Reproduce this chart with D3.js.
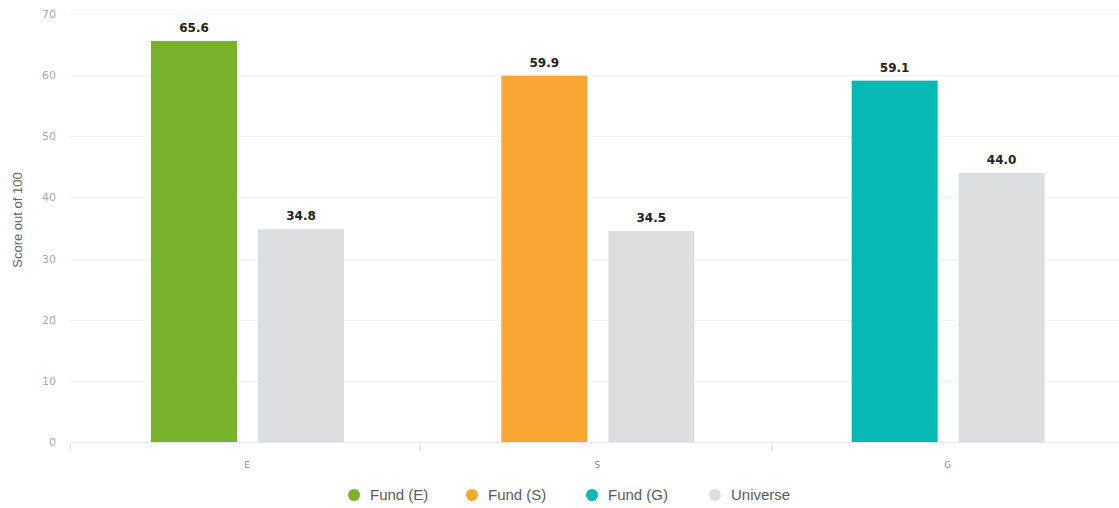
<!DOCTYPE html>
<html>
<head>
<meta charset="utf-8">
<script src="https://cdn.jsdelivr.net/npm/d3@7"></script>
<style>
  body { margin: 0; background: #fff; }
  .tick text { fill: #aaaaaa; }
</style>
</head>
<body>
<div id="chart"></div>
<script>
var svgWidth = 1119;
var svgHeight = 508;

var margin = { top: 14, right: 0, bottom: 66, left: 70 };
var width = svgWidth - margin.left - margin.right;
var height = svgHeight - margin.top - margin.bottom;

// data
var categories = ["E", "S", "G"];
var fundScores = [65.6, 59.9, 59.1];
var universeScores = [34.8, 34.5, 44.0];
var fundColors = ["#78b22a", "#f8a733", "#05b8b3"];
var universeColor = "#dcdfe1";
var legendLabels = ["Fund (E)", "Fund (S)", "Fund (G)", "Universe"];
var yTicks = [0, 10, 20, 30, 40, 50, 60, 70];

var svg = d3.select("#chart")
  .append("svg")
  .attr("width", svgWidth)
  .attr("height", svgHeight);

var chartGroup = svg.append("g")
  .attr("transform", `translate(${margin.left}, ${margin.top})`);

var xScale = d3.scaleBand()
  .domain(categories)
  .range([0, width + 2]);

// two bars per category, 86px wide with a 21px gap
var inner = d3.scaleBand()
  .domain(["fund", "universe"])
  .range([81, 81 + 193])
  .paddingInner(21 / 107);

var yScale = d3.scaleLinear()
  .domain([0, 70])
  .range([height, 0]);

// gridlines
chartGroup.append("g")
  .selectAll("line")
  .data(yTicks.slice(1))
  .enter()
  .append("line")
  .attr("x1", 0)
  .attr("x2", width)
  .attr("y1", d => Math.round(yScale(d)) + 0.5)
  .attr("y2", d => Math.round(yScale(d)) + 0.5)
  .attr("stroke", "#f4f4f4")
  .attr("stroke-width", 1);

// y axis labels
var leftAxis = d3.axisLeft(yScale).tickValues(yTicks).tickSize(0).tickPadding(14);
var yAxis = chartGroup.append("g").call(leftAxis);
yAxis.select(".domain").remove();
yAxis.selectAll("text")
  .style("font-family", "DejaVu Sans, sans-serif")
  .style("font-size", "11px");

// x axis
chartGroup.append("line")
  .attr("x1", 0)
  .attr("x2", width)
  .attr("y1", height + 0.5)
  .attr("y2", height + 0.5)
  .attr("stroke", "#e6e9ec");

chartGroup.append("g")
  .selectAll("line")
  .data(categories)
  .enter()
  .append("line")
  .attr("x1", d => Math.round(xScale(d)) + 0.5)
  .attr("x2", d => Math.round(xScale(d)) + 0.5)
  .attr("y1", height)
  .attr("y2", height + 10)
  .attr("stroke", "#e6e9ec");

chartGroup.append("g")
  .selectAll("text")
  .data(categories)
  .enter()
  .append("text")
  .attr("x", d => xScale(d) + 177)
  .attr("y", height + 26)
  .attr("text-anchor", "middle")
  .style("font-family", "DejaVu Sans, sans-serif")
  .style("font-size", "9px")
  .attr("fill", "#8a8a8a")
  .text(d => d);

// bars
var groups = chartGroup.selectAll(".cat")
  .data(categories)
  .enter()
  .append("g")
  .attr("transform", d => `translate(${xScale(d)}, 0)`);

groups.append("rect")
  .attr("x", inner("fund"))
  .attr("width", inner.bandwidth())
  .attr("y", (d, i) => yScale(fundScores[i]))
  .attr("height", (d, i) => height - yScale(fundScores[i]))
  .attr("fill", (d, i) => fundColors[i]);

groups.append("rect")
  .attr("x", inner("universe"))
  .attr("width", inner.bandwidth())
  .attr("y", (d, i) => yScale(universeScores[i]))
  .attr("height", (d, i) => height - yScale(universeScores[i]))
  .attr("fill", universeColor);

// value labels
groups.append("text")
  .attr("x", inner("fund") + inner.bandwidth() / 2)
  .attr("y", (d, i) => yScale(fundScores[i]) - 9)
  .attr("text-anchor", "middle")
  .style("font-family", "DejaVu Sans, sans-serif")
  .style("font-size", "12px")
  .style("font-weight", "bold")
  .attr("fill", "#222")
  .text((d, i) => fundScores[i].toFixed(1));

groups.append("text")
  .attr("x", inner("universe") + inner.bandwidth() / 2)
  .attr("y", (d, i) => yScale(universeScores[i]) - 9)
  .attr("text-anchor", "middle")
  .style("font-family", "DejaVu Sans, sans-serif")
  .style("font-size", "12px")
  .style("font-weight", "bold")
  .attr("fill", "#222")
  .text((d, i) => universeScores[i].toFixed(1));

// y axis title
svg.append("text")
  .attr("transform", "rotate(-90)")
  .attr("x", -220)
  .attr("y", 22)
  .attr("text-anchor", "middle")
  .style("font-family", "Liberation Sans, Arial, sans-serif")
  .style("font-size", "13px")
  .attr("fill", "#666")
  .text("Score out of 100");

// legend
var legendColors = fundColors.concat([universeColor]);
var legendX = [354, 472, 592, 715];
var legend = svg.append("g")
  .selectAll("g")
  .data(legendLabels)
  .enter()
  .append("g")
  .attr("transform", (d, i) => `translate(${legendX[i]}, 495)`);

legend.append("circle")
  .attr("r", 6)
  .attr("fill", (d, i) => legendColors[i]);

legend.append("text")
  .attr("x", 16)
  .attr("y", 5)
  .style("font-family", "Liberation Sans, Arial, sans-serif")
  .style("font-size", "15px")
  .attr("fill", "#5a5a5a")
  .text(d => d);
</script>
</body>
</html>
